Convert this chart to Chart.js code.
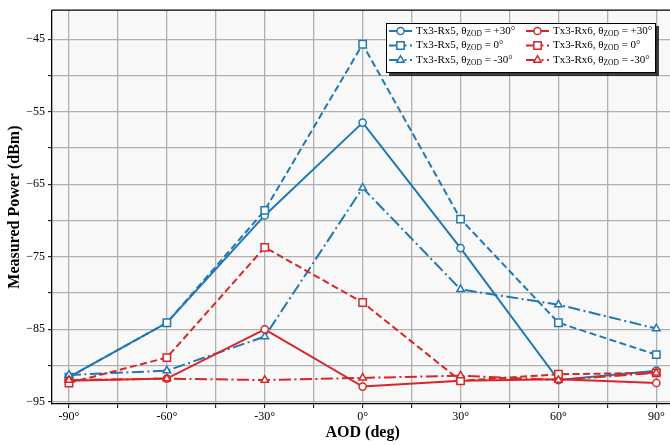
<!DOCTYPE html>
<html>
<head>
<meta charset="utf-8">
<script src="https://cdn.jsdelivr.net/npm/chart.js@4.4.0/dist/chart.umd.min.js"></script>
<style>
  html, body { margin: 0; padding: 0; background: #fff; overflow: hidden; }
  canvas { display: block; }
</style>
</head>
<body>
<canvas id="graficaPotencia" width="680" height="445"></canvas>
<script>
// Datos
var angulosAOD = [-90, -60, -30, 0, 30, 60, 90];
var potRx5Mas30 = [-91.6, -84.1, -69.3, -56.5, -73.8, -92.0, -90.7];
var potRx5Cero = [-91.6, -84.1, -68.6, -45.7, -69.8, -84.1, -88.5];
var potRx5Menos30 = [-91.3, -90.7, -86.0, -65.5, -79.5, -81.6, -84.9];
var potRx6Mas30 = [-92.1, -91.8, -85.0, -92.9, -92.1, -91.9, -92.4];
var potRx6Cero = [-92.4, -88.9, -73.7, -81.3, -92.1, -91.2, -91.0];
var potRx6Menos30 = [-92.0, -91.8, -92.0, -91.7, -91.4, -92.0, -91.0];

var etiquetasRx = ['Tx3-Rx5', 'Tx3-Rx6'];
var etiquetasZOD = ['+30°', '0°', '-30°'];
var ticksY = [-45, -55, -65, -75, -85, -95];
var ticksX = [-90, -60, -30, 0, 30, 60, 90];

var azul = '#1f77b4';
var rojo = '#d62728';
var fuente = '"Liberation Serif", "Times New Roman", serif';

function puntos(serie) {
    return angulosAOD.map(function (a, i) { return { x: a, y: serie[i] }; });
}

function serie(etiqueta, datos, color, guiones, marcador, radio, orden) {
    return {
        label: etiqueta,
        data: puntos(datos),
        borderColor: color,
        borderWidth: 2,
        borderDash: guiones,
        pointStyle: marcador,
        pointRadius: radio,
        pointBorderWidth: 1.5,
        pointBackgroundColor: '#fff',
        pointBorderColor: color,
        backgroundColor: '#fff',
        fill: false,
        tension: 0,
        order: orden
    };
}

var estilos = [[], [7, 3.5], [12, 3.5, 2, 3.5]];
var marcadores = [['circle', 3.6], ['rect', 5.2], ['triangle', 4.3]];

var datasets = [];
[[potRx5Mas30, potRx5Cero, potRx5Menos30], [potRx6Mas30, potRx6Cero, potRx6Menos30]].forEach(function (grupo, g) {
    grupo.forEach(function (datos, k) {
        var idx = g * 3 + k;
        datasets.push(serie(etiquetasRx[g] + ', θZOD = ' + etiquetasZOD[k], datos,
            g === 0 ? azul : rojo, estilos[k], marcadores[k][0], marcadores[k][1], 5 - idx));
    });
});

var fondoGrafica = {
    id: 'fondoGrafica',
    beforeDraw: function (chart) {
        var a = chart.chartArea, ctx = chart.ctx;
        ctx.save();
        ctx.fillStyle = '#f8f8f8';
        ctx.fillRect(a.left, a.top, a.right - a.left, a.bottom - a.top);
        ctx.restore();
    },
    afterDraw: function (chart) {
        var a = chart.chartArea, ctx = chart.ctx;
        ctx.save();
        ctx.strokeStyle = '#000';
        ctx.lineWidth = 1.3;
        ctx.beginPath();
        ctx.moveTo(a.left, a.top);
        ctx.lineTo(a.right, a.top);
        ctx.stroke();
        ctx.restore();
    }
};

var leyendaZOD = {
    id: 'leyendaZOD',
    afterDraw: function (chart) {
        var ctx = chart.ctx, a = chart.chartArea;
        var ancho = 270, alto = 50;
        var x0 = Math.round(a.right - 17 - ancho), y0 = Math.round(a.top + 13);
        ctx.save();
        ctx.fillStyle = 'rgba(0,0,0,0.75)';
        ctx.fillRect(x0 + 3, y0 + 3, ancho, alto);
        ctx.fillStyle = '#fff';
        ctx.fillRect(x0, y0, ancho, alto);
        ctx.strokeStyle = '#000';
        ctx.lineWidth = 1;
        ctx.strokeRect(x0 + 0.5, y0 + 0.5, ancho - 1, alto - 1);

        chart.data.datasets.forEach(function (ds, i) {
            var col = Math.floor(i / 3), fila = i % 3;
            var hx = x0 + 3 + col * 137, hy = y0 + 8 + fila * 14.5;
            ctx.strokeStyle = ds.borderColor;
            ctx.lineWidth = 2;
            ctx.setLineDash(ds.borderDash);
            ctx.beginPath();
            ctx.moveTo(hx, hy);
            ctx.lineTo(hx + 23, hy);
            ctx.stroke();
            ctx.setLineDash([]);
            ctx.fillStyle = '#fff';
            ctx.lineWidth = 1.5;
            Chart.helpers.drawPoint(ctx, { pointStyle: ds.pointStyle, radius: ds.pointRadius, rotation: 0, borderWidth: 1.5 }, hx + 11.5, hy);

            var tx = hx + 27;
            ctx.fillStyle = '#000';
            ctx.textBaseline = 'middle';
            ctx.textAlign = 'left';
            ctx.font = '11px ' + fuente;
            var t1 = etiquetasRx[col] + ', θ';
            ctx.fillText(t1, tx, hy);
            tx += ctx.measureText(t1).width;
            ctx.font = '7.5px ' + fuente;
            ctx.fillText('ZOD', tx, hy + 3);
            tx += ctx.measureText('ZOD').width;
            ctx.font = '11px ' + fuente;
            ctx.fillText(' = ' + etiquetasZOD[fila], tx, hy);
        });
        ctx.restore();
    }
};

function crearGraficaPotencia() {
    var ctx = document.getElementById('graficaPotencia').getContext('2d');
    var grafica = new Chart(ctx, {
        type: 'line',
        data: { datasets: datasets },
        options: {
            responsive: false,
            animation: false,
            devicePixelRatio: 1,
            layout: { padding: { top: 6, right: 6, left: 0, bottom: 0 } },
            plugins: { legend: { display: false }, tooltip: { enabled: false } },
            scales: {
                x: {
                    type: 'linear',
                    min: -95.2,
                    max: 95.2,
                    afterFit: function (s) { s.height = 41; },
                    afterBuildTicks: function (s) {
                        var t = [];
                        for (var v = -90; v <= 90; v += 15) t.push({ value: v });
                        s.ticks = t;
                    },
                    ticks: {
                        autoSkip: false,
                        maxRotation: 0,
                        padding: 2,
                        color: '#000',
                        font: { family: fuente, size: 12 },
                        callback: function (v) { return ticksX.indexOf(v) >= 0 ? v + '°' : ''; }
                    },
                    grid: {
                        color: '#b0b0b0',
                        lineWidth: 1.3,
                        tickLength: 4,
                        tickColor: '#000',
                        tickWidth: 1
                    },
                    border: { display: true, color: '#000', width: 1.3 },
                    title: {
                        display: true,
                        text: 'AOD (deg)',
                        color: '#000',
                        font: { family: fuente, size: 16, weight: 'bold' },
                        padding: { top: 0, bottom: 3 }
                    }
                },
                y: {
                    type: 'linear',
                    min: -95.3,
                    max: -41,
                    afterFit: function (s) { s.width = 52; },
                    afterBuildTicks: function (s) {
                        var t = [];
                        for (var v = -95; v <= -45; v += 5) t.push({ value: v });
                        s.ticks = t;
                    },
                    ticks: {
                        autoSkip: false,
                        padding: 3,
                        color: '#000',
                        font: { family: fuente, size: 12 },
                        callback: function (v) { return ticksY.indexOf(v) >= 0 ? '\u2212' + Math.abs(v) : ''; }
                    },
                    grid: {
                        color: '#b0b0b0',
                        lineWidth: 1.3,
                        tickLength: 4,
                        tickColor: '#000',
                        tickWidth: 1
                    },
                    border: { display: true, color: '#000', width: 1.3 },
                    title: {
                        display: true,
                        text: 'Measured Power (dBm)',
                        color: '#000',
                        font: { family: fuente, size: 16, weight: 'bold' },
                        padding: { top: 5, bottom: 0 }
                    }
                }
            }
        },
        plugins: [fondoGrafica, leyendaZOD]
    });
}

crearGraficaPotencia();
</script>
</body>
</html>
